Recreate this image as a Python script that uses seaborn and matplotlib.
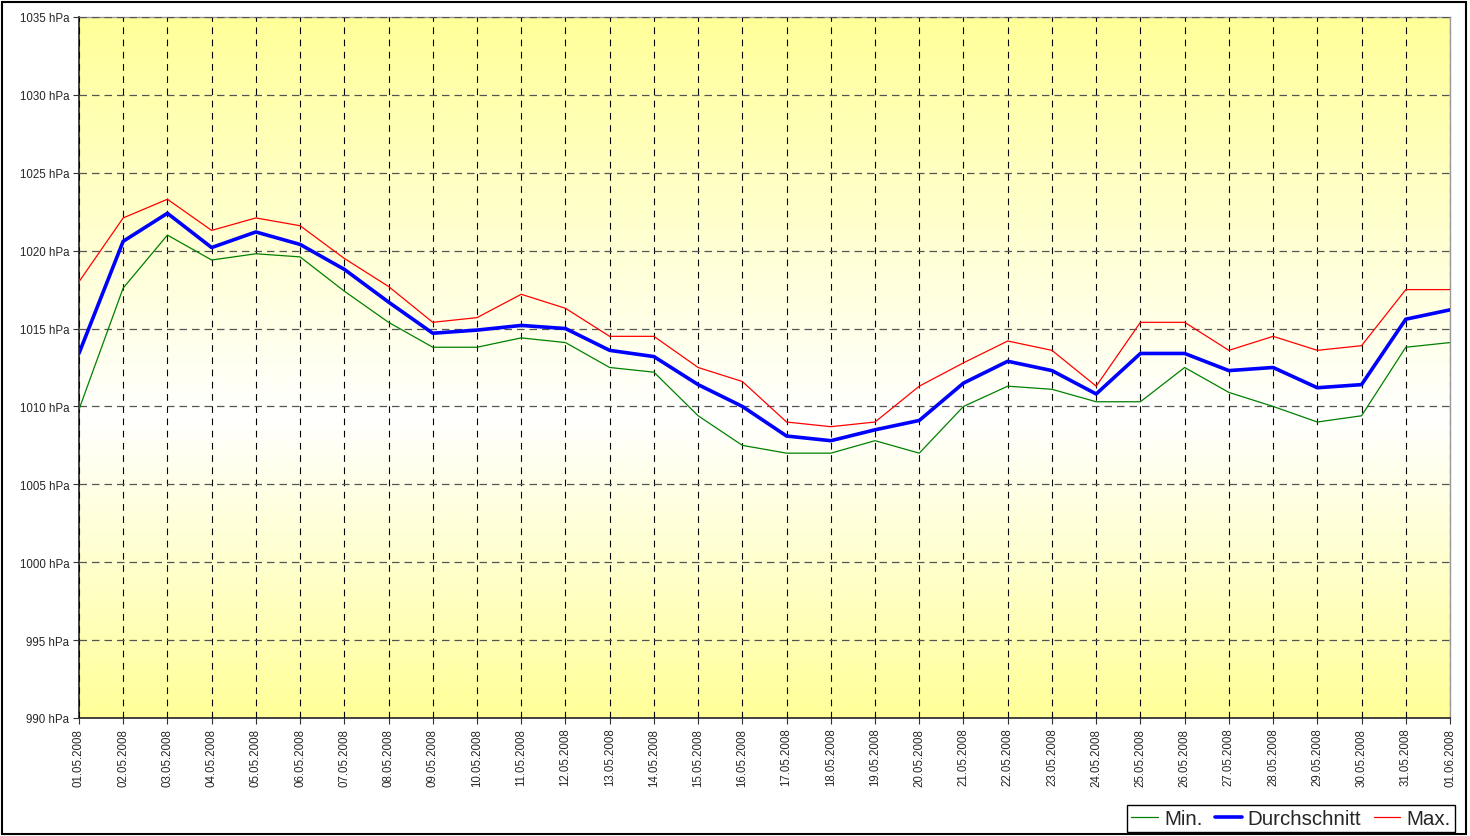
import pandas as pd
import numpy as np
import matplotlib
matplotlib.use('Agg')
import matplotlib.pyplot as plt
from matplotlib.colors import LinearSegmentedColormap
from matplotlib.patches import Rectangle
import seaborn as sns

# Luftdruck Mai 2008 (hPa)
dates = ['01.05.2008', '02.05.2008', '03.05.2008', '04.05.2008', '05.05.2008', '06.05.2008',
         '07.05.2008', '08.05.2008', '09.05.2008', '10.05.2008', '11.05.2008', '12.05.2008',
         '13.05.2008', '14.05.2008', '15.05.2008', '16.05.2008', '17.05.2008', '18.05.2008',
         '19.05.2008', '20.05.2008', '21.05.2008', '22.05.2008', '23.05.2008', '24.05.2008',
         '25.05.2008', '26.05.2008', '27.05.2008', '28.05.2008', '29.05.2008', '30.05.2008',
         '31.05.2008', '01.06.2008']
p_min = [1009.8, 1017.6, 1021.0, 1019.4, 1019.8, 1019.6, 1017.4, 1015.4, 1013.8, 1013.8,
         1014.4, 1014.1, 1012.5, 1012.2, 1009.4, 1007.5, 1007.0, 1007.0, 1007.8, 1007.0,
         1010.0, 1011.3, 1011.1, 1010.3, 1010.3, 1012.5, 1010.9, 1010.0, 1009.0, 1009.4,
         1013.8, 1014.1]
p_avg = [1013.4, 1020.6, 1022.4, 1020.2, 1021.2, 1020.4, 1018.8, 1016.7, 1014.7, 1014.9,
         1015.2, 1015.0, 1013.6, 1013.2, 1011.4, 1010.0, 1008.1, 1007.8, 1008.5, 1009.1,
         1011.5, 1012.9, 1012.3, 1010.8, 1013.4, 1013.4, 1012.3, 1012.5, 1011.2, 1011.4,
         1015.6, 1016.2]
p_max = [1018.0, 1022.1, 1023.3, 1021.3, 1022.1, 1021.6, 1019.5, 1017.7, 1015.4, 1015.7,
         1017.2, 1016.3, 1014.5, 1014.5, 1012.5, 1011.6, 1009.0, 1008.7, 1009.0, 1011.3,
         1012.8, 1014.2, 1013.6, 1011.3, 1015.4, 1015.4, 1013.6, 1014.5, 1013.6, 1013.9,
         1017.5, 1017.5]
y_ticks = [990, 995, 1000, 1005, 1010, 1015, 1020, 1025, 1030, 1035]

sns.set_theme(style='white')
plt.rcParams['font.family'] = ['Liberation Sans', 'DejaVu Sans']

day = np.arange(len(dates))
df = pd.DataFrame({'Tag': np.tile(day, 3),
                   'Druck': p_min + p_avg + p_max,
                   'Serie': ['Min.'] * len(dates) + ['Durchschnitt'] * len(dates) + ['Max.'] * len(dates)})

fig = plt.figure(figsize=(14.7, 8.37), dpi=100)
ax = fig.add_axes([0.0537, 0.141, 0.9327, 0.8375])

# yellow-white-yellow background
bg = LinearSegmentedColormap.from_list('bg', [(0.0, '#ffff99'), (0.43, '#ffffff'), (1.0, '#ffff99')])
ax.imshow(np.linspace(0, 1, 256).reshape(-1, 1), cmap=bg, aspect='auto',
          extent=[0, len(dates) - 1, 990, 1035], origin='lower', zorder=0)

sns.lineplot(data=df, x='Tag', y='Druck', hue='Serie', size='Serie',
             palette={'Min.': '#008000', 'Durchschnitt': '#0000ff', 'Max.': '#ff0000'},
             sizes={'Min.': 0.9, 'Durchschnitt': 2.6, 'Max.': 0.9},
             ax=ax, zorder=3)

ax.set_xlim(0, len(dates) - 1)
ax.set_ylim(990, 1035)
ax.set_xticks(day)
ax.set_xticklabels(dates, rotation=90, fontsize=8.3)
ax.set_yticks(y_ticks)
ax.set_yticklabels([f'{v} hPa' for v in y_ticks], fontsize=8.3)
ax.set_xlabel('')
ax.set_ylabel('')
ax.tick_params(axis='both', which='major', direction='out', length=4, width=0.8,
               color='#333333', pad=3, bottom=True, left=True)

ax.grid(True, axis='x', color='#000000', linestyle=(0, (6, 5)), linewidth=0.8, zorder=1)
ax.grid(True, axis='y', color='#555555', linestyle=(0, (6, 4)), linewidth=0.9, zorder=1)
ax.set_axisbelow(False)
for gl in ax.get_xgridlines() + ax.get_ygridlines():
    gl.set_zorder(1)

for side in ['left', 'bottom']:
    ax.spines[side].set_color('#333333')
    ax.spines[side].set_linewidth(1.3)
for side in ['top', 'right']:
    ax.spines[side].set_color('#999999')
    ax.spines[side].set_linewidth(1.0)

handles, labels = ax.get_legend_handles_labels()
ax.legend(handles, labels, loc='lower right', bbox_to_anchor=(0.9898, 0.005),
          bbox_transform=fig.transFigure, ncol=3, fontsize=14.8, frameon=True,
          fancybox=False, edgecolor='#000000', framealpha=1, handlelength=1.3,
          handletextpad=0.3, columnspacing=0.6, borderpad=0.2, borderaxespad=0)
ax.get_legend().get_frame().set_linewidth(1.0)

fig.patches.append(Rectangle((0.0015, 0.0025), 0.996, 0.994, transform=fig.transFigure,
                             fill=False, edgecolor='#000000', linewidth=1.5))

fig.savefig('out.png', dpi=100, facecolor='white')
